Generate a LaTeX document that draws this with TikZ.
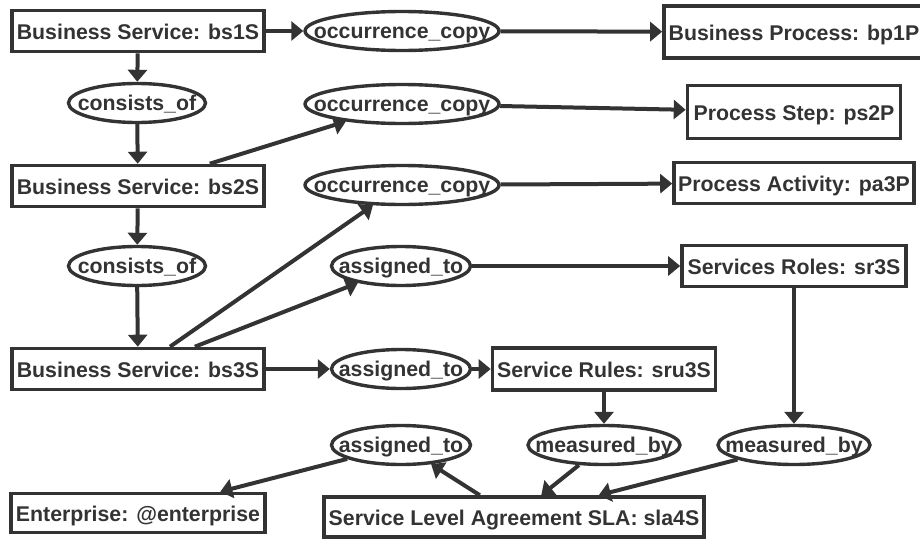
\documentclass[tikz,border=0pt]{standalone}
\usepackage{fontspec}
\setmainfont{Liberation Sans}
\usetikzlibrary{arrows.meta,shapes.geometric}
\definecolor{ink}{HTML}{333333}
\newcommand{\reltext}[1]{\makebox[0pt]{#1}}
\tikzset{
  box/.style={draw=ink, line width=3.6pt, rectangle, inner sep=0pt, minimum height=41pt, text=ink, text height=17.5pt, text depth=0.5pt, font=\fontsize{21.3}{24}\selectfont\bfseries},
  rel/.style={draw=ink, line width=3.4pt, ellipse, inner sep=0pt, minimum height=39pt, text=ink, text height=16.5pt, text depth=2pt, font=\fontsize{21.3}{24}\selectfont\bfseries},
  link/.style={draw=ink, line width=4pt, -{Triangle[length=12pt,width=19pt]}},
}
\begin{document}
\begin{tikzpicture}[x=1pt,y=-1pt]
\clip (0,0) rectangle (920,541);
% boxes
\node[box, minimum width=252pt] (bs1) at (138,31) {Business Service: bs1S};
\node[box, minimum width=252pt] (bs2) at (138,186) {Business Service: bs2S};
\node[box, minimum width=252pt] (bs3) at (138,369) {Business Service: bs3S};
\node[box, minimum width=260pt, minimum height=52pt] (bp1) at (794,32) {Business Process: bp1P};
\node[box, minimum width=213pt, minimum height=53pt] (ps2) at (794,112) {Process Step: ps2P};
\node[box, minimum width=240pt] (pa3) at (794,183) {Process Activity: pa3P};
\node[box, minimum width=224pt] (sr3) at (794,266) {Services Roles: sr3S};
\node[box, minimum width=223pt, minimum height=42pt] (sru3) at (604,369) {Service Rules: sru3S};
\node[box, minimum width=254pt, minimum height=39pt] (ent) at (138,513) {Enterprise: @enterprise};
\node[box, minimum width=380pt, minimum height=40pt] (sla) at (514,517) {Service Level Agreement SLA: sla4S};
% relations
\node[rel, minimum width=194pt] (oc1) at (402,31) {\reltext{occurrence\_copy}};
\node[rel, minimum width=194pt] (oc2) at (402,104) {\reltext{occurrence\_copy}};
\node[rel, minimum width=194pt] (oc3) at (402,185) {\reltext{occurrence\_copy}};
\node[rel, minimum width=137pt] (co1) at (137,103) {\reltext{consists\_of}};
\node[rel, minimum width=137pt] (co2) at (137,266) {\reltext{consists\_of}};
\node[rel, minimum width=139pt] (as1) at (401,266) {\reltext{assigned\_to}};
\node[rel, minimum width=139pt] (as2) at (401,369) {\reltext{assigned\_to}};
\node[rel, minimum width=139pt] (as3) at (401,445) {\reltext{assigned\_to}};
\node[rel, minimum width=152pt] (me1) at (604,445) {\reltext{measured\_by}};
\node[rel, minimum width=152pt] (me2) at (794,445) {\reltext{measured\_by}};
% connectors
\draw[link] (bs1) -- (oc1);
\draw[link] (oc1) -- (bp1);
\draw[link] (bs1) -- (co1);
\draw[link] (co1) -- (bs2);
\draw[link] (bs2) -- (oc2);
\draw[link] (oc2) -- (ps2);
\draw[link] (bs2) -- (co2);
\draw[link] (co2) -- (bs3);
\draw[link] (bs3) -- (oc3);
\draw[link] (oc3) -- (pa3);
\draw[link] (bs3) -- (as1);
\draw[link] (as1) -- (sr3);
\draw[link] (bs3) -- (as2);
\draw[link] (as2) -- (sru3);
\draw[link] (sru3) -- (me1);
\draw[link] (me1) -- (sla);
\draw[link] (sr3) -- (me2);
\draw[link] (me2) -- (sla);
\draw[link] (sla) -- (as3);
\draw[link] (as3) -- (ent);
\end{tikzpicture}
\end{document}
